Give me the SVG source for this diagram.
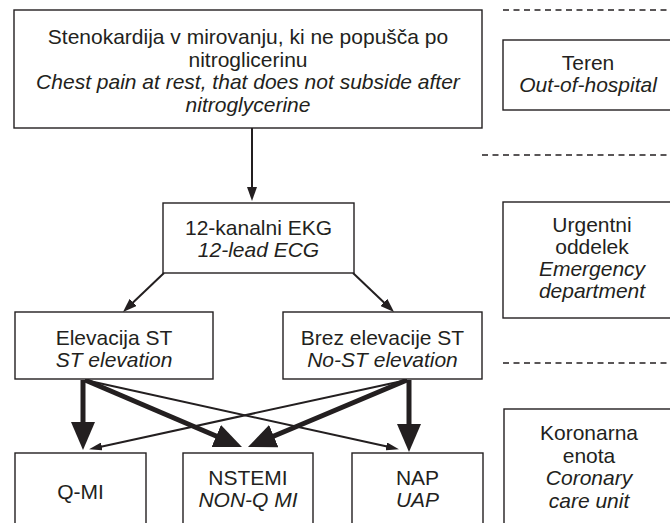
<svg xmlns="http://www.w3.org/2000/svg" width="670" height="523" viewBox="0 0 670 523">
<style>
.box{fill:#fff;stroke:#231f20;stroke-width:1.4}
.t{font-family:"Liberation Sans",Arial,Helvetica,sans-serif;font-size:21px;fill:#231f20;text-anchor:middle}
.i{font-style:italic}
.dash{stroke:#231f20;stroke-width:1.3;stroke-dasharray:6 4.5;fill:none}
.m{stroke:#231f20;stroke-width:2;fill:none;marker-end:url(#am)}
.n{stroke:#231f20;stroke-width:2;fill:none;marker-end:url(#at)}
.k{stroke:#231f20;stroke-width:5;fill:none;marker-end:url(#ak)}
</style>
<defs>
<marker id="am" markerUnits="userSpaceOnUse" markerWidth="14" markerHeight="10" refX="2" refY="5" orient="auto"><path d="M0,0 L14,5 L0,10 z" fill="#231f20"/></marker>
<marker id="at" markerUnits="userSpaceOnUse" markerWidth="13" markerHeight="8" refX="2" refY="4" orient="auto"><path d="M0,0 L13,4 L0,8 z" fill="#231f20"/></marker>
<marker id="ak" markerUnits="userSpaceOnUse" markerWidth="28" markerHeight="24" refX="3" refY="12" orient="auto"><path d="M0,0 L28,12 L0,24 z" fill="#231f20"/></marker>
</defs>
<rect width="670" height="523" fill="#fff"/>
<g id="separators">
<line class="dash" x1="503" y1="10" x2="670" y2="10"/>
<line class="dash" x1="482" y1="155" x2="670" y2="155"/>
<line class="dash" x1="503" y1="363" x2="670" y2="363"/>
</g>
<g id="connectors">
<path class="m" d="M252,128 L252,189"/>
<path class="m" d="M164,273 L131.7,303.7"/>
<path class="m" d="M353,273 L385.3,303.7"/>
<path class="k" d="M83,380 L83,425"/>
<path class="k" d="M85,380 L219,437.2"/>
<path class="n" d="M85,380 L388.2,446.8"/>
<path class="k" d="M409,380 L409,427"/>
<path class="k" d="M407,380 L271,437.3"/>
<path class="n" d="M407,380 L99.8,446.9"/>
</g>
<g id="n-start">
<rect class="box" x="14" y="10" width="468" height="118"/>
<text class="t" x="248" y="44">Stenokardija v mirovanju, ki ne popušča po</text>
<text class="t" x="248" y="66.5">nitroglicerinu</text>
<text class="t i" x="248" y="89">Chest pain at rest, that does not subside after</text>
<text class="t i" x="248" y="111.5">nitroglycerine</text>
</g>
<g id="n-teren">
<rect class="box" x="503" y="40" width="200" height="70"/>
<text class="t" x="588" y="70">Teren</text>
<text class="t i" x="588" y="92">Out-of-hospital</text>
</g>
<g id="n-ekg">
<rect class="box" x="163" y="203" width="191" height="70"/>
<text class="t" x="258.5" y="235">12-kanalni EKG</text>
<text class="t i" x="258.5" y="257">12-lead ECG</text>
</g>
<g id="n-urgentni">
<rect class="box" x="503" y="202" width="200" height="116"/>
<text class="t" x="592" y="232">Urgentni</text>
<text class="t" x="592" y="254">oddelek</text>
<text class="t i" x="592" y="276">Emergency</text>
<text class="t i" x="592" y="298">department</text>
</g>
<g id="n-elevacija">
<rect class="box" x="15" y="312" width="198" height="67"/>
<text class="t" x="114" y="345">Elevacija ST</text>
<text class="t i" x="114" y="367">ST elevation</text>
</g>
<g id="n-brez">
<rect class="box" x="283" y="312" width="199" height="67"/>
<text class="t" x="382.5" y="345">Brez elevacije ST</text>
<text class="t i" x="382.5" y="367">No-ST elevation</text>
</g>
<g id="n-koronarna">
<rect class="box" x="504" y="409" width="200" height="140"/>
<text class="t" x="589" y="440">Koronarna</text>
<text class="t" x="589" y="463">enota</text>
<text class="t i" x="589" y="485">Coronary</text>
<text class="t i" x="589" y="508">care unit</text>
</g>
<g id="n-qmi">
<rect class="box" x="15" y="453" width="131" height="100"/>
<text class="t" x="80.5" y="499">Q-MI</text>
</g>
<g id="n-nstemi">
<rect class="box" x="183" y="453" width="130" height="100"/>
<text class="t" x="248" y="485">NSTEMI</text>
<text class="t i" x="248" y="507">NON-Q MI</text>
</g>
<g id="n-nap">
<rect class="box" x="352" y="453" width="131" height="100"/>
<text class="t" x="417.5" y="485">NAP</text>
<text class="t i" x="417.5" y="507">UAP</text>
</g>
</svg>
